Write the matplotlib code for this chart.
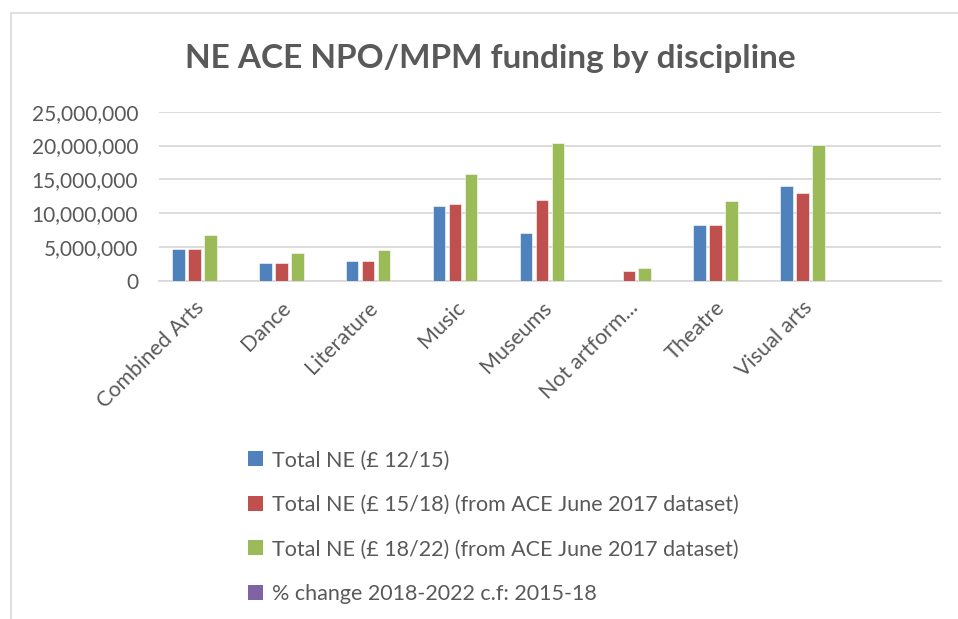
import matplotlib.pyplot as plt
import numpy as np
from matplotlib.patches import Rectangle, Patch
from matplotlib.transforms import ScaledTranslation

plt.rcParams["font.family"] = ["Lato", "DejaVu Sans"]

# Data
categories = ["Combined Arts", "Dance", "Literature", "Music", "Museums",
              "Not artform...", "Theatre", "Visual arts", ""]
total_12_15 = [4730000, 2570000, 2860000, 11050000, 7000000, 0, 8190000, 14000000, 0]
total_15_18 = [4730000, 2570000, 2860000, 11300000, 11940000, 1390000, 8280000, 12920000, 0]
total_18_22 = [6710000, 4050000, 4540000, 15780000, 20300000, 1880000, 11830000, 20120000, 0]
pct_change = [0.42, 0.58, 0.59, 0.40, 0.70, 0.35, 0.43, 0.56, 0]

series = [
    ("Total NE (£ 12/15)", total_12_15, "#4F81BD"),
    ("Total NE (£ 15/18) (from ACE June 2017 dataset)", total_15_18, "#C0504D"),
    ("Total NE (£ 18/22) (from ACE June 2017 dataset)", total_18_22, "#9BBB59"),
    ("% change 2018-2022 c.f: 2015-18", pct_change, "#8064A2"),
]

text_color = "#595959"
grid_color = "#D9D9D9"

fig = plt.figure(figsize=(9.58, 6.19), dpi=100)
ax = fig.add_axes([0.166, 0.5465, 0.816, 0.273])

x = np.arange(len(categories))
pitch = 0.184
width = 0.144
for i, (label, values, color) in enumerate(series):
    ax.bar(x + (i - 1.5) * pitch, values, width, color=color,
           edgecolor="white", linewidth=0.4, label=label, zorder=3)

ax.set_xlim(-0.5, len(categories) - 0.5)
ax.set_ylim(0, 25000000)
ax.set_yticks(np.arange(0, 25000001, 5000000))
ax.yaxis.set_major_formatter(plt.FuncFormatter(lambda v, p: f"{int(v):,}"))
ax.grid(axis="y", color=grid_color, linewidth=1.3, zorder=0)
for s in ["top", "right", "left"]:
    ax.spines[s].set_visible(False)
ax.spines["bottom"].set_color(grid_color)
ax.spines["bottom"].set_linewidth(1.3)
ax.tick_params(axis="both", length=0, labelcolor=text_color)
ax.tick_params(axis="y", pad=15, labelsize=15)
ax.tick_params(axis="x", pad=12)
ax.set_xticks(x)
ax.set_xticklabels(categories, rotation=45, ha="right", fontsize=15.5)
shift = ScaledTranslation(4 / 72, 0, fig.dpi_scale_trans)
for lbl in ax.get_xticklabels():
    lbl.set_transform(lbl.get_transform() + shift)

fig.text(0.512, 0.905, "NE ACE NPO/MPM funding by discipline", ha="center",
         va="center", fontsize=24, fontweight="bold", color=text_color)

handles = [Patch(facecolor=c, label=l) for l, _, c in series]
fig.legend(handles=handles, loc="upper left", bbox_to_anchor=(0.250, 0.2863),
           frameon=False, fontsize=15.5, labelcolor=text_color,
           handlelength=0.7, handleheight=0.7, handletextpad=0.4,
           labelspacing=1.14, borderaxespad=0)

fig.patches.append(Rectangle((10.5 / 958, -0.1), 1.2, 1.1 - 13 / 619,
                             transform=fig.transFigure, fill=False,
                             edgecolor=grid_color, linewidth=1.2))

plt.savefig("out.png", dpi=100)
